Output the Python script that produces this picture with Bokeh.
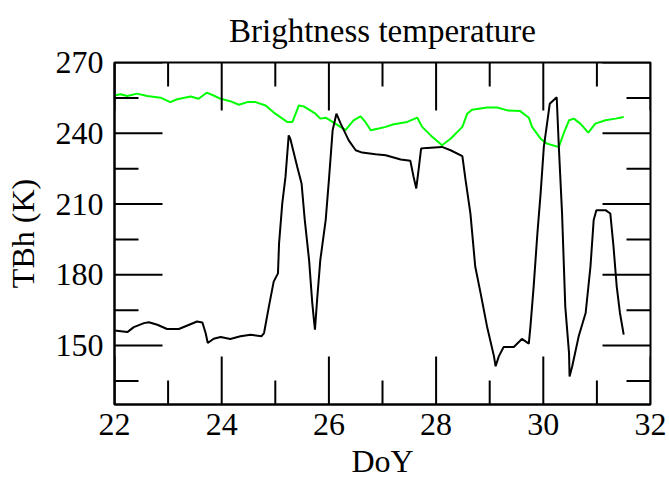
import math
from bokeh.plotting import figure
from bokeh.models import SingleIntervalTicker, Range1d, ColumnDataSource
from bokeh.embed import file_html
from bokeh.resources import INLINE

# Black series (TBh)
black_doy = [22.00, 22.24, 22.36, 22.55, 22.64, 22.80, 22.98, 23.20, 23.36, 23.54,
             23.64, 23.70, 23.74, 23.85, 23.98, 24.16, 24.35, 24.54, 24.74, 24.79,
             24.88, 24.97, 25.05, 25.07, 25.13, 25.19, 25.25, 25.28, 25.41, 25.49,
             25.55, 25.63, 25.69, 25.72, 25.74, 25.78, 25.84, 25.94, 26.00, 26.07,
             26.14, 26.22, 26.37, 26.50, 26.62, 26.87, 27.06, 27.34, 27.52, 27.58,
             27.63, 27.68, 27.72, 27.83, 28.11, 28.27, 28.49, 28.55, 28.64, 28.73,
             28.83, 28.95, 29.08, 29.11, 29.17, 29.26, 29.45, 29.60, 29.73, 29.76,
             29.82, 29.89, 29.95, 30.01, 30.07, 30.12, 30.25, 30.29, 30.35, 30.41,
             30.48, 30.49, 30.54, 30.66, 30.79, 30.88, 30.94, 30.99, 31.16, 31.25,
             31.31, 31.37, 31.43, 31.50]
black_tb = [156.4, 155.7, 157.8, 159.5, 159.9, 158.8, 157.0, 157.0, 158.5, 160.2,
            159.8, 155.3, 151.1, 152.9, 153.6, 152.8, 153.9, 154.6, 153.9, 155.3,
            166.5, 177.1, 180.6, 193.3, 210.3, 221.5, 239.1, 237.7, 225.7, 218.7,
            203.2, 186.3, 168.0, 161.0, 156.7, 169.4, 186.3, 203.2, 220.1, 241.3,
            248.3, 244.1, 237.0, 232.8, 231.8, 231.1, 230.7, 228.9, 228.3, 221.5,
            216.6, 225.7, 233.5, 233.8, 234.2, 232.8, 230.3, 220.1, 206.0, 183.5,
            172.2, 158.1, 145.4, 141.2, 145.4, 149.4, 149.4, 152.8, 150.8, 158.1,
            175.0, 197.6, 214.5, 234.2, 244.1, 252.5, 255.3, 234.2, 206.0, 166.5,
            146.8, 136.9, 141.2, 153.9, 163.8, 183.5, 203.2, 207.4, 207.4, 206.0,
            191.9, 175.0, 163.8, 154.6]

# Green series
green_doy = [22.00, 22.11, 22.24, 22.42, 22.61, 22.86, 23.04, 23.17, 23.42, 23.57,
             23.72, 23.85, 23.98, 24.16, 24.32, 24.48, 24.63, 24.82, 25.00, 25.22,
             25.32, 25.44, 25.53, 25.75, 25.84, 25.94, 26.12, 26.31, 26.46, 26.59,
             26.68, 26.78, 26.93, 27.06, 27.21, 27.46, 27.65, 27.74, 27.90, 28.11,
             28.27, 28.49, 28.58, 28.67, 28.95, 29.14, 29.33, 29.57, 29.73, 29.79,
             29.95, 30.07, 30.29, 30.38, 30.48, 30.57, 30.69, 30.84, 30.97, 31.16,
             31.35, 31.50]
green_tb = [256.0, 256.5, 255.8, 256.8, 255.8, 255.1, 253.2, 254.4, 255.6, 254.6,
            257.2, 256.0, 254.6, 253.6, 252.1, 253.2, 253.2, 251.8, 248.3, 244.8,
            244.8, 251.8, 251.4, 248.3, 246.2, 246.6, 244.1, 241.3, 245.5, 247.2,
            244.8, 241.3, 242.0, 242.7, 243.8, 244.8, 246.6, 242.7, 239.1, 234.9,
            237.7, 242.7, 248.3, 250.0, 250.9, 250.9, 249.7, 249.4, 246.6, 242.7,
            237.7, 235.6, 234.2, 239.9, 245.5, 246.2, 244.1, 240.3, 244.1, 245.5,
            246.2, 246.9]

# Tick values
x_major_ticks = [22, 24, 26, 28, 30, 32]
x_minor_ticks = [23, 25, 27, 29, 31]
y_major_ticks = [150, 180, 210, 240, 270]
y_minor_ticks = [135, 165, 195, 225, 255]

title_text = "Brightness temperature"
x_label = "DoY"
y_label = "TBh (K)"
x_min, x_max = 22, 32
y_min, y_max = 125, 270

FONT = "Liberation Serif"

p = figure(width=669, height=481, output_backend="svg", toolbar_location=None,
           x_range=Range1d(x_min, x_max), y_range=Range1d(y_min, y_max),
           min_border_left=114, min_border_right=19, min_border_top=62,
           min_border_bottom=76, title=title_text)
p.grid.visible = False
p.background_fill_color = "white"
p.border_fill_color = "white"
p.outline_line_color = "black"
p.outline_line_width = 2

p.title.text_font = FONT
p.title.text_font_size = "33px"
p.title.text_font_style = "normal"
p.title.text_color = "black"
p.title.align = "center"
p.title.vertical_align = "top"
p.title.standoff = 23

green_src = ColumnDataSource(dict(x=green_doy, y=green_tb))
black_src = ColumnDataSource(dict(x=black_doy, y=black_tb))
p.line("x", "y", source=green_src, line_color="#00ff00", line_width=2)
p.line("x", "y", source=black_src, line_color="black", line_width=2)

# Inward tick marks (dash markers are clipped to the frame, so only the inner part shows)
MAJOR = 96
MINOR = 48
tick_kw = dict(marker="dash", line_color="black", line_width=2, fill_color=None)
for yb in (y_min, y_max):
    p.scatter(x=x_major_ticks, y=[yb] * len(x_major_ticks), size=MAJOR,
              angle=math.pi / 2, **tick_kw)
    p.scatter(x=x_minor_ticks, y=[yb] * len(x_minor_ticks), size=MINOR,
              angle=math.pi / 2, **tick_kw)
for xb in (x_min, x_max):
    p.scatter(x=[xb] * len(y_major_ticks), y=y_major_ticks, size=MAJOR, **tick_kw)
    p.scatter(x=[xb] * len(y_minor_ticks), y=y_minor_ticks, size=MINOR, **tick_kw)

bottom_axis = p.below[0]
left_axis = p.left[0]


def style(ax, interval):
    ax.ticker = SingleIntervalTicker(interval=interval, num_minor_ticks=2)
    ax.axis_line_width = 2
    ax.axis_line_color = "black"
    ax.major_tick_in = 0
    ax.major_tick_out = 0
    ax.minor_tick_in = 0
    ax.minor_tick_out = 0
    ax.major_label_text_font = FONT
    ax.major_label_text_color = "black"
    ax.major_label_text_font_size = "32px"
    ax.axis_label_text_font = FONT
    ax.axis_label_text_font_size = "32px"
    ax.axis_label_text_font_style = "normal"
    ax.axis_label_text_color = "black"


style(bottom_axis, 2)
style(left_axis, 30)

bottom_axis.axis_label = x_label
left_axis.axis_label = y_label
bottom_axis.major_label_standoff = 9
bottom_axis.axis_label_standoff = 5
left_axis.major_label_standoff = 11
left_axis.axis_label_standoff = 12

open("out.html", "w").write(file_html(p, INLINE))
